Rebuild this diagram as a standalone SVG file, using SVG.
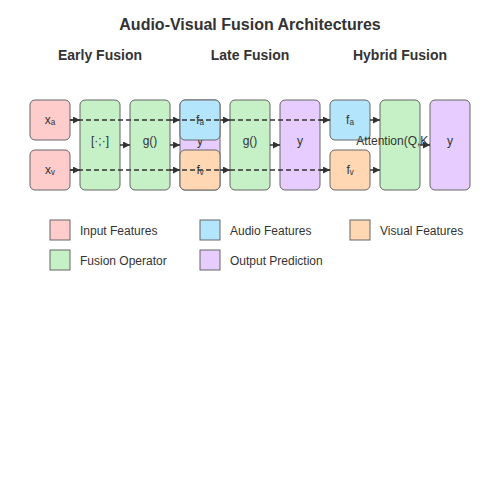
<svg xmlns="http://www.w3.org/2000/svg" width="500" height="500" viewBox="0 0 500 500">
<defs>
<style>
text{font-family:"Liberation Sans",Arial,sans-serif;fill:#333}
.title{font-size:16px;font-weight:bold}
.sec{font-size:14px;font-weight:bold}
.lbl{font-size:12px}
.box{stroke:#666;stroke-width:1}
.in{fill:#ffcccc}.au{fill:#b3e5fc}.vi{fill:#ffd8b3}.fu{fill:#c6f0c6}.out{fill:#e6ccff}
.c{stroke:#333;stroke-width:1.5;fill:none}
.d{stroke:#333;stroke-width:1.5;fill:none;stroke-dasharray:5,3}
</style>
<marker id="ah" viewBox="0 0 10 10" refX="10" refY="5" markerWidth="7" markerHeight="7" markerUnits="userSpaceOnUse" orient="auto"><path d="M0,0L10,5L0,10z" fill="#333"/></marker>
</defs>
<rect width="500" height="500" fill="#fff"/>
<text class="title" x="250" y="30" text-anchor="middle">Audio-Visual Fusion Architectures</text>
<text class="sec" x="100" y="60" text-anchor="middle">Early Fusion</text>
<text class="sec" x="250" y="60" text-anchor="middle">Late Fusion</text>
<text class="sec" x="400" y="60" text-anchor="middle">Hybrid Fusion</text>
<g id="early-xa"><rect class="box in" x="30" y="100" width="40" height="40" rx="5"/><text class="lbl" x="50" y="124" text-anchor="middle">xₐ</text></g>
<g id="early-xv"><rect class="box in" x="30" y="150" width="40" height="40" rx="5"/><text class="lbl" x="50" y="174" text-anchor="middle">xᵥ</text></g>
<g id="early-concat"><rect class="box fu" x="80" y="100" width="40" height="90" rx="5"/><text class="lbl" x="100" y="145" text-anchor="middle">[·;·]</text></g>
<g id="early-g"><rect class="box fu" x="130" y="100" width="40" height="90" rx="5"/><text class="lbl" x="150" y="145" text-anchor="middle">g()</text></g>
<g id="late-y-hidden"><rect class="box out" x="180" y="100" width="40" height="90" rx="5"/><text class="lbl" x="200" y="145" text-anchor="middle">y</text></g>
<g id="late-fa"><rect class="box au" x="180" y="100" width="40" height="40" rx="5"/><text class="lbl" x="200" y="124" text-anchor="middle">fₐ</text></g>
<g id="late-fv"><rect class="box vi" x="180" y="150" width="40" height="40" rx="5"/><text class="lbl" x="200" y="174" text-anchor="middle">fᵥ</text></g>
<g id="late-g"><rect class="box fu" x="230" y="100" width="40" height="90" rx="5"/><text class="lbl" x="250" y="145" text-anchor="middle">g()</text></g>
<g id="late-y"><rect class="box out" x="280" y="100" width="40" height="90" rx="5"/><text class="lbl" x="300" y="145" text-anchor="middle">y</text></g>
<g id="hyb-fa"><rect class="box au" x="330" y="100" width="40" height="40" rx="5"/><text class="lbl" x="350" y="124" text-anchor="middle">fₐ</text></g>
<g id="hyb-fv"><rect class="box vi" x="330" y="150" width="40" height="40" rx="5"/><text class="lbl" x="350" y="174" text-anchor="middle">fᵥ</text></g>
<g id="hyb-att"><rect class="box fu" x="380" y="100" width="40" height="90" rx="5"/><text class="lbl" x="400" y="145" text-anchor="middle">Attention(Q,K,V)</text></g>
<g id="hyb-y"><rect class="box out" x="430" y="100" width="40" height="90" rx="5"/><text class="lbl" x="450" y="145" text-anchor="middle">y</text></g>
<g id="connectors">
<line class="d" x1="70" y1="120" x2="330" y2="120"/>
<line class="d" x1="70" y1="170" x2="330" y2="170"/>
<line class="c" x1="70" y1="120" x2="80" y2="120" marker-end="url(#ah)"/>
<line class="c" x1="170" y1="120" x2="180" y2="120" marker-end="url(#ah)"/>
<line class="c" x1="220" y1="120" x2="230" y2="120" marker-end="url(#ah)"/>
<line class="c" x1="320" y1="120" x2="330" y2="120" marker-end="url(#ah)"/>
<line class="c" x1="70" y1="170" x2="80" y2="170" marker-end="url(#ah)"/>
<line class="c" x1="170" y1="170" x2="180" y2="170" marker-end="url(#ah)"/>
<line class="c" x1="220" y1="170" x2="230" y2="170" marker-end="url(#ah)"/>
<line class="c" x1="320" y1="170" x2="330" y2="170" marker-end="url(#ah)"/>
<line class="c" x1="120" y1="145" x2="130" y2="145" marker-end="url(#ah)"/>
<line class="c" x1="170" y1="145" x2="180" y2="145" marker-end="url(#ah)"/>
<line class="c" x1="270" y1="145" x2="280" y2="145" marker-end="url(#ah)"/>
<line class="c" x1="370" y1="120" x2="380" y2="120" marker-end="url(#ah)"/>
<line class="c" x1="370" y1="170" x2="380" y2="170" marker-end="url(#ah)"/>
<line class="c" x1="420" y1="145" x2="430" y2="145" marker-end="url(#ah)"/>
</g>
<g id="legend">
<rect class="box in" x="50" y="220" width="20" height="20"/><text class="lbl" x="80" y="235">Input Features</text>
<rect class="box au" x="200" y="220" width="20" height="20"/><text class="lbl" x="230" y="235">Audio Features</text>
<rect class="box vi" x="350" y="220" width="20" height="20"/><text class="lbl" x="380" y="235">Visual Features</text>
<rect class="box fu" x="50" y="250" width="20" height="20"/><text class="lbl" x="80" y="265">Fusion Operator</text>
<rect class="box out" x="200" y="250" width="20" height="20"/><text class="lbl" x="230" y="265">Output Prediction</text>
</g>
</svg>
